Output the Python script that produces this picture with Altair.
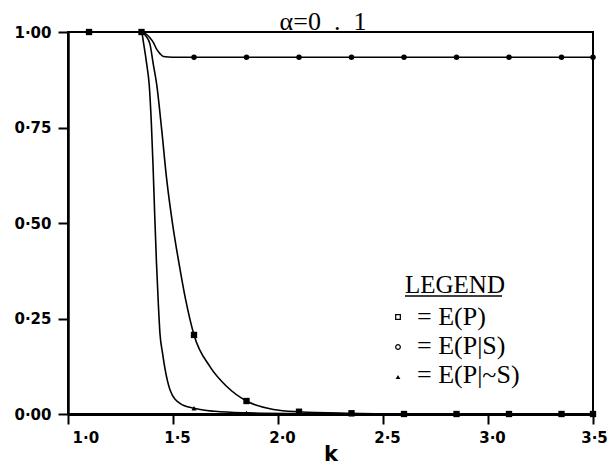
import altair as alt
import pandas as pd

# ---- data ----
series_names = ["E(P)", "E(P|S)", "E(P|~S)"]

k_ep = [1.0, 1.1, 1.35, 1.39, 1.406, 1.422, 1.44, 1.454, 1.5, 1.6, 1.85, 2.1, 2.35, 2.6, 2.85, 3.1, 3.35, 3.5]
v_ep = [1.0, 1.0, 1.0, 0.985, 0.973, 0.955, 0.942, 0.936, 0.934, 0.934, 0.934, 0.934, 0.934, 0.934, 0.934, 0.934, 0.934, 0.934]

k_eps = [1.0, 1.1, 1.35, 1.37, 1.39, 1.406, 1.422, 1.446, 1.47, 1.50, 1.53, 1.56, 1.6, 1.676, 1.756, 1.85, 1.978, 2.1, 2.35, 2.6, 2.85, 3.1, 3.35, 3.5]
v_eps = [1.0, 1.0, 1.0, 0.99, 0.969, 0.916, 0.864, 0.745, 0.614, 0.49, 0.39, 0.30, 0.207, 0.124, 0.072, 0.034, 0.012, 0.006, 0.002, 0.0, 0.0, 0.0, 0.0, 0.0]

k_epns = [1.0, 1.1, 1.35, 1.36, 1.375, 1.387, 1.397, 1.405, 1.413, 1.421, 1.43, 1.438, 1.45, 1.462, 1.486, 1.533, 1.6, 1.7, 1.85, 2.1, 2.35, 2.6, 2.85, 3.1, 3.35, 3.5]
v_epns = [1.0, 1.0, 1.0, 0.97, 0.915, 0.86, 0.76, 0.65, 0.52, 0.40, 0.29, 0.21, 0.16, 0.118, 0.063, 0.028, 0.015, 0.007, 0.003, 0.001, 0.0, 0.0, 0.0, 0.0, 0.0, 0.0]

k_markers = [1.1, 1.35, 1.6, 1.85, 2.1, 2.35, 2.6, 2.85, 3.1, 3.35, 3.5]
m_ep = [1.0, 1.0, 0.934, 0.934, 0.934, 0.934, 0.934, 0.934, 0.934, 0.934, 0.934]
m_eps = [1.0, 1.0, 0.207, 0.034, 0.006, 0.002, 0.0, 0.0, 0.0, 0.0, 0.0]
m_epns = [1.0, 1.0, 0.015, 0.003, 0.001, 0.0, 0.0, 0.0, 0.0, 0.0, 0.0]

x_ticks = [1.0, 1.5, 2.0, 2.5, 3.0, 3.5]
y_ticks = [0.0, 0.25, 0.5, 0.75, 1.0]

title_text = "\u03b1=0\u00a0\u00a0.\u00a0\u00a01"
legend_title = "LEGEND"

# ---- tables built from the arrays ----
lines_df = pd.concat([
    pd.DataFrame({"k": k_ep, "v": v_ep, "s": series_names[0]}),
    pd.DataFrame({"k": k_eps, "v": v_eps, "s": series_names[1]}),
    pd.DataFrame({"k": k_epns, "v": v_epns, "s": series_names[2]}),
], ignore_index=True)

marks_df = [
    pd.DataFrame({"k": k_markers, "v": m_ep}),
    pd.DataFrame({"k": k_markers, "v": m_eps}),
    pd.DataFrame({"k": k_markers, "v": m_epns}),
]

xscale = alt.Scale(domain=[1.0, 3.5], nice=False, zero=False)
yscale = alt.Scale(domain=[0.0, 1.0], nice=False)

SANS = "DejaVu Sans"
SERIF = "Liberation Serif"

xaxis = alt.Axis(
    values=x_ticks, grid=False, title="k",
    labelExpr="replace(format(datum.value, '.1f'), '.', '\u00b7')",
    labelFont=SANS, labelFontSize=15, labelFontWeight="bold", labelColor="black",
    labelAlign=alt.expr("datum.value == 1 ? 'left' : 'center'"),
    labelOffset=alt.expr("datum.value == 3.5 ? 1 : 4"),
    labelPadding=6,
    tickSize=10, tickWidth=2, tickColor="black",
    domainColor="black", domainWidth=3,
    titleFont=SANS, titleFontSize=21, titleFontWeight="bold", titleColor="black",
    titleBaseline="alphabetic", titleY=46,
)
yaxis = alt.Axis(
    values=y_ticks, grid=False, title=None,
    labelExpr="replace(format(datum.value, '.2f'), '.', '\u00b7')",
    labelFont=SANS, labelFontSize=15, labelFontWeight="bold", labelColor="black",
    labelPadding=7,
    tickSize=10, tickWidth=2, tickColor="black",
    domainColor="black", domainWidth=2.5,
)

lines = alt.Chart(lines_df).mark_line(
    color="black", strokeWidth=1.6, interpolate="monotone"
).encode(
    x=alt.X("k:Q", scale=xscale, axis=xaxis),
    y=alt.Y("v:Q", scale=yscale, axis=yaxis),
    detail="s:N",
)

shapes = ["circle", "square", "triangle-up"]
sizes = [30, 40, 25]
point_layers = []
for df, shp, sz in zip(marks_df, shapes, sizes):
    point_layers.append(
        alt.Chart(df).mark_point(shape=shp, filled=True, size=sz, color="black", opacity=1).encode(
            x=alt.X("k:Q", scale=xscale), y=alt.Y("v:Q", scale=yscale)
        )
    )

title_layer = alt.Chart(pd.DataFrame({"t": [title_text]})).mark_text(
    font=SERIF, fontSize=26, align="center", baseline="alphabetic", color="black"
).encode(x=alt.value(255), y=alt.value(-2), text="t:N")

leg_title = alt.Chart(pd.DataFrame({"t": [legend_title]})).mark_text(
    font=SERIF, fontSize=25, align="left", baseline="alphabetic", color="black"
).encode(x=alt.value(337), y=alt.value(261), text="t:N")

leg_underline = alt.Chart(pd.DataFrame({"t": [legend_title]})).mark_rule(
    color="black", strokeWidth=1.5
).encode(x=alt.value(337), x2=alt.value(434), y=alt.value(264))

leg_shapes = ["square", "circle", "triangle-up"]
leg_filled = [False, False, True]
leg_layers = []
for i, (name, shp, fl) in enumerate(zip(series_names, leg_shapes, leg_filled)):
    row = pd.DataFrame({"t": ["= " + name]})
    leg_layers.append(
        alt.Chart(row).mark_point(shape=shp, filled=fl, size=22, color="black", strokeWidth=1.2, opacity=1).encode(
            x=alt.value(330), y=alt.value(285 + 30 * i)
        )
    )
    leg_layers.append(
        alt.Chart(row).mark_text(
            font=SERIF, fontSize=26, align="left", baseline="alphabetic", color="black"
        ).encode(x=alt.value(349), y=alt.value(293 + 29 * i), text="t:N")
    )

chart = alt.layer(
    lines, *point_layers, title_layer, leg_title, leg_underline, *leg_layers
).properties(
    width=525, height=382,
    autosize=alt.AutoSizeParams(type="none"),
    padding={"left": 60, "top": 24, "right": 15, "bottom": 52},
    background="white",
).configure_view(stroke="black", strokeWidth=2)

chart.save("out.html", embed_options={"renderer": "svg", "actions": False})
